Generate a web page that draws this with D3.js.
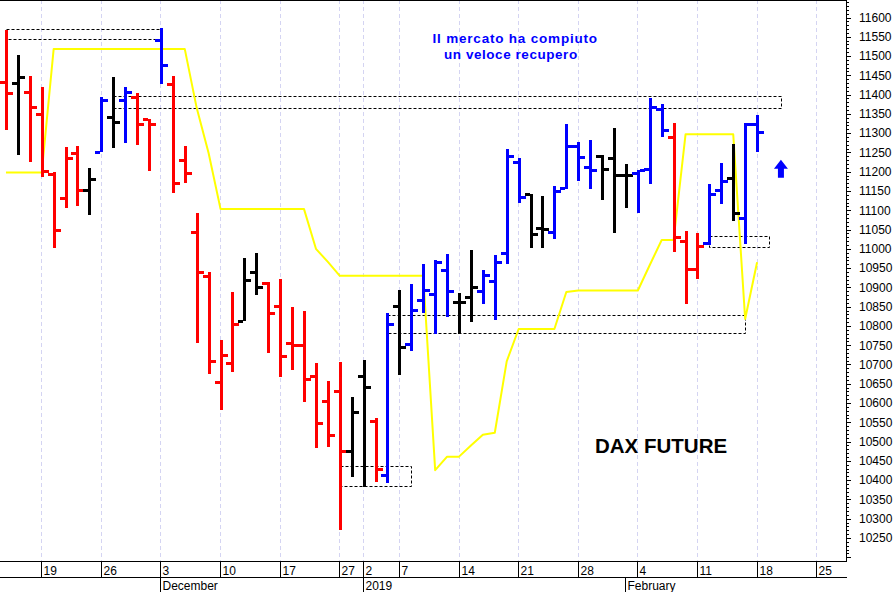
<!DOCTYPE html>
<html><head><meta charset="utf-8">
<script src="https://cdn.jsdelivr.net/npm/d3@7"></script>
<style>html,body{margin:0;padding:0;background:#fff;}svg{display:block;}</style>
</head><body>
<svg id="chart" width="896" height="592"></svg>
<script>
// ---------- DATA ----------
const dates = ["2018-11-14","2018-11-15","2018-11-16","2018-11-19","2018-11-20","2018-11-21","2018-11-22","2018-11-23",
"2018-11-26","2018-11-27","2018-11-28","2018-11-29","2018-11-30","2018-12-03","2018-12-04","2018-12-05","2018-12-06","2018-12-07",
"2018-12-10","2018-12-11","2018-12-12","2018-12-13","2018-12-14","2018-12-17","2018-12-18","2018-12-19","2018-12-20","2018-12-21",
"2018-12-27","2018-12-28","2019-01-02","2019-01-03","2019-01-04","2019-01-07","2019-01-08","2019-01-09","2019-01-10","2019-01-11",
"2019-01-14","2019-01-15","2019-01-16","2019-01-17","2019-01-18","2019-01-21","2019-01-22","2019-01-23","2019-01-24","2019-01-25",
"2019-01-28","2019-01-29","2019-01-30","2019-01-31","2019-02-01","2019-02-04","2019-02-05","2019-02-06","2019-02-07","2019-02-08",
"2019-02-11","2019-02-12","2019-02-13","2019-02-14","2019-02-15","2019-02-18"];
const futureDays = ["2019-02-19","2019-02-20","2019-02-21","2019-02-22","2019-02-25","2019-02-26","2019-02-27"];

const open  = [11434,11431,11408,11350,11194,11131,11248,11153,11252,11343,11386,11395,11336,11542,11427,11231,11043,10930,
10655,10703,10814,10940,10911,10852,10756,10750,10671,10605,10630,10475,10671,10553,10413,10852,10753,10866,10884,10944,
10861,10875,10891,10917,10989,11226,11142,11054,11043,11157,11268,11212,11241,11235,11192,11196,11207,11362,11291,11021,
10947,11015,11153,11183,11080,11324];
const high  = [11568,11503,11447,11419,11200,11265,11268,11209,11393,11445,11421,11405,11336,11572,11447,11268,11094,10939,
10763,10888,10976,10989,10913,10922,10849,10840,10704,10656,10707,10616,10711,10561,10834,10894,10909,10961,10970,10987,
10885,10996,10944,10983,11259,11235,11143,11136,11162,11324,11278,11281,11244,11313,11220,11205,11391,11376,11326,11045,
11042,11168,11222,11272,11326,11347];
const low   = [11308,11244,11224,11187,11002,11106,11112,11088,11252,11261,11274,11270,11203,11428,11146,11170,10756,10676,
10583,10680,10814,10881,10730,10668,10687,10604,10483,10486,10270,10409,10383,10395,10393,10674,10734,10834,10780,10823,
10780,10809,10858,10816,10961,11119,11002,11002,11025,11155,11175,11155,11127,11041,11106,11093,11169,11291,10993,10858,
10922,11009,11117,11071,11013,11251];
const close = [11404,11445,11367,11203,11049,11235,11153,11181,11386,11328,11407,11323,11323,11476,11172,11196,10941,10710,
10725,10805,10920,10901,10834,10723,10750,10662,10547,10518,10476,10577,10642,10430,10806,10745,10842,10894,10967,10891,
10861,10902,10931,10966,11241,11134,11039,11052,11151,11268,11238,11205,11207,11192,11192,11205,11369,11307,11030,10947,
11008,11142,11177,11093,11324,11303];
// r = red, k = black, b = blue
const barColor = ["r","k","r","r","r","r","r","k","b","k","b","r","r","b","r","r","r","r",
"r","r","k","k","r","r","r","r","r","r","r","k","k","r","b","k","b","b","b","b",
"k","k","b","b","b","b","k","k","b","b","b","b","k","k","k","b","b","b","r","r",
"r","b","b","k","b","b"];
// yellow stop line
const stopLine = [11198,11198,11198,11198,11518,11518,11518,11518,11518,11518,11518,11518,11518,11518,11518,11518,11365,11248,
11103,11103,11103,11103,11103,11103,11103,11103,11000,10966,10930,10930,10930,10930,10930,10930,10930,10930,10426,10461,
10461,10490,10518,10523,10708,10792,10792,10792,10792,10888,10892,10892,10892,10892,10892,10892,10958,11023,11023,11297,
11297,11297,11297,11297,10818,10965];

// dashed zones
const zoneFrom = ["2018-11-14","2018-11-27","2018-12-27","2019-01-04","2019-02-12"];
const zoneTo   = ["2018-12-03","2019-02-20","2019-01-08","2019-02-15","2019-02-19"];
const zoneLow  = [11543,11365,10385,10782,11005];
const zoneHigh = [11569,11397,10438,10828,11034];

const weekTicks  = ["2018-11-19","2018-11-26","2018-12-03","2018-12-10","2018-12-17","2018-12-27","2019-01-02","2019-01-07",
"2019-01-14","2019-01-21","2019-01-28","2019-02-04","2019-02-11","2019-02-18","2019-02-25"];
const weekLabels = ["19","26","3","10","17","27","2","7","14","21","28","4","11","18","25"];
const monthTicks  = ["2018-12-03","2019-01-02","2019-02-01"];
const monthLabels = ["December","2019","February"];
const yTickValues = d3.range(10250, 11601, 50);

const arrowDay = "2019-02-20", arrowValue = 11205;

// ---------- CHART ----------
const svg = d3.select("#chart");
const W = 896, H = 592;
const plotRight = 846, plotBottom = 561;
const allDays = dates.concat(futureDays);

const x = d3.scalePoint().domain(allDays).range([0, 846.5]).padding(0.5);
const y = d3.scaleLinear().domain([10190.3, 11645.4]).range([plotBottom, 0]);
const colors = {r:"#ff0000", k:"#000000", b:"#0000ff"};
const px = v => Math.round(x(v));

// grid
svg.append("g").selectAll("line").data(weekTicks).join("line")
  .attr("x1", d => Math.floor(x(d)) + 0.5).attr("x2", d => Math.floor(x(d)) + 0.5)
  .attr("y1", 0).attr("y2", plotBottom)
  .attr("stroke", "#d4d4f2").attr("stroke-width", 1).attr("stroke-dasharray", "4,3");

// dashed zones
const zones = zoneFrom.map((f, i) => ({f, t: zoneTo[i], lo: zoneLow[i], hi: zoneHigh[i]}));
svg.append("g").selectAll("rect").data(zones).join("rect")
  .attr("x", d => px(d.f) + 0.5).attr("width", d => px(d.t) - px(d.f))
  .attr("y", d => Math.round(y(d.hi)) + 0.5).attr("height", d => Math.round(y(d.lo)) - Math.round(y(d.hi)))
  .attr("fill", "none").attr("stroke", "#000").attr("stroke-width", 1).attr("stroke-dasharray", "3,2");

// yellow line
svg.append("path")
  .datum(stopLine)
  .attr("fill", "none").attr("stroke", "#ffff00").attr("stroke-width", 2).attr("stroke-linejoin", "round")
  .attr("d", d3.line().x((d, i) => x(dates[i])).y(d => y(d)));

// OHLC bars
const bars = dates.map((d, i) => ({d, o: open[i], h: high[i], l: low[i], c: close[i], col: colors[barColor[i]]}));
const g = svg.append("g").attr("shape-rendering", "crispEdges");
const bg = g.selectAll("g").data(bars).join("g").attr("fill", d => d.col);
bg.append("rect").attr("x", d => px(d.d) - 1).attr("width", 3)
  .attr("y", d => Math.round(y(d.h))).attr("height", d => Math.round(y(d.l)) - Math.round(y(d.h)));
bg.append("rect").attr("x", d => px(d.d) - 6).attr("width", 5)
  .attr("y", d => Math.round(y(d.o)) - 1).attr("height", 3);
bg.append("rect").attr("x", d => px(d.d) + 2).attr("width", 5)
  .attr("y", d => Math.round(y(d.c)) - 1).attr("height", 3);

// frame
svg.append("line").attr("x1", 0).attr("x2", plotRight + 0.5).attr("y1", 0.5).attr("y2", 0.5).attr("stroke", "#000");
svg.append("line").attr("x1", plotRight + 0.5).attr("x2", plotRight + 0.5).attr("y1", 0).attr("y2", plotBottom + 1).attr("stroke", "#000");
svg.append("line").attr("x1", 0).attr("x2", plotRight + 1).attr("y1", plotBottom + 0.5).attr("y2", plotBottom + 0.5).attr("stroke", "#000");
svg.append("line").attr("x1", 0).attr("x2", plotRight + 1).attr("y1", 577.5).attr("y2", 577.5).attr("stroke", "#000");

// right axis
const minor = d3.range(10200, 11641, 10);
svg.append("g").selectAll("line").data(minor).join("line")
  .attr("x1", plotRight).attr("x2", d => plotRight + (d % 50 === 0 ? 5 : 3))
  .attr("y1", d => Math.round(y(d)) + 0.5).attr("y2", d => Math.round(y(d)) + 0.5)
  .attr("stroke", "#000");
svg.append("g").selectAll("text").data(yTickValues).join("text")
  .attr("x", 859).attr("y", d => y(d)).attr("dy", "0.36em")
  .attr("font-family", "Liberation Sans, Arial, sans-serif").attr("font-size", 12).attr("fill", "#000")
  .text(d => d);

// bottom axis
svg.append("g").selectAll("line").data(weekTicks).join("line")
  .attr("x1", d => Math.floor(x(d)) + 0.5).attr("x2", d => Math.floor(x(d)) + 0.5)
  .attr("y1", plotBottom).attr("y2", 577).attr("stroke", "#000");
svg.append("g").selectAll("text").data(weekTicks).join("text")
  .attr("x", d => Math.floor(x(d)) + 2.5).attr("y", 574.5)
  .attr("font-family", "Liberation Sans, Arial, sans-serif").attr("font-size", 12).attr("fill", "#000")
  .text((d, i) => weekLabels[i]);
svg.append("g").selectAll("line").data(monthTicks).join("line")
  .attr("x1", d => Math.floor(x(d)) + 0.5).attr("x2", d => Math.floor(x(d)) + 0.5)
  .attr("y1", 577).attr("y2", H).attr("stroke", "#000");
svg.append("g").selectAll("text").data(monthTicks).join("text")
  .attr("x", d => Math.floor(x(d)) + 2.5).attr("y", 590)
  .attr("font-family", "Liberation Sans, Arial, sans-serif").attr("font-size", 12).attr("fill", "#000")
  .text((d, i) => monthLabels[i]);

// annotations
const t = svg.append("g").attr("font-family", "Liberation Sans, Arial, sans-serif").attr("font-weight", "bold");
t.append("text").attr("x", 432.5).attr("y", 42.5).attr("font-size", 13.5).attr("letter-spacing", 0.8)
  .attr("fill", "#0000ff").text("Il mercato ha compiuto");
t.append("text").attr("x", 444).attr("y", 58.5).attr("font-size", 13.5).attr("letter-spacing", 0.55)
  .attr("fill", "#0000ff").text("un veloce recupero");
t.append("text").attr("x", 595).attr("y", 452.5).attr("font-size", 20.5).attr("fill", "#000").text("DAX FUTURE");

// arrow
const ax = x(arrowDay), ay = y(arrowValue);
svg.append("path")
  .attr("d", `M${ax},${ay - 10} L${ax + 7},${ay - 1} L${ax + 3},${ay - 1} L${ax + 3},${ay + 8} L${ax - 3},${ay + 8} L${ax - 3},${ay - 1} L${ax - 7},${ay - 1} Z`)
  .attr("fill", "#0000ff");
</script>
</body></html>
